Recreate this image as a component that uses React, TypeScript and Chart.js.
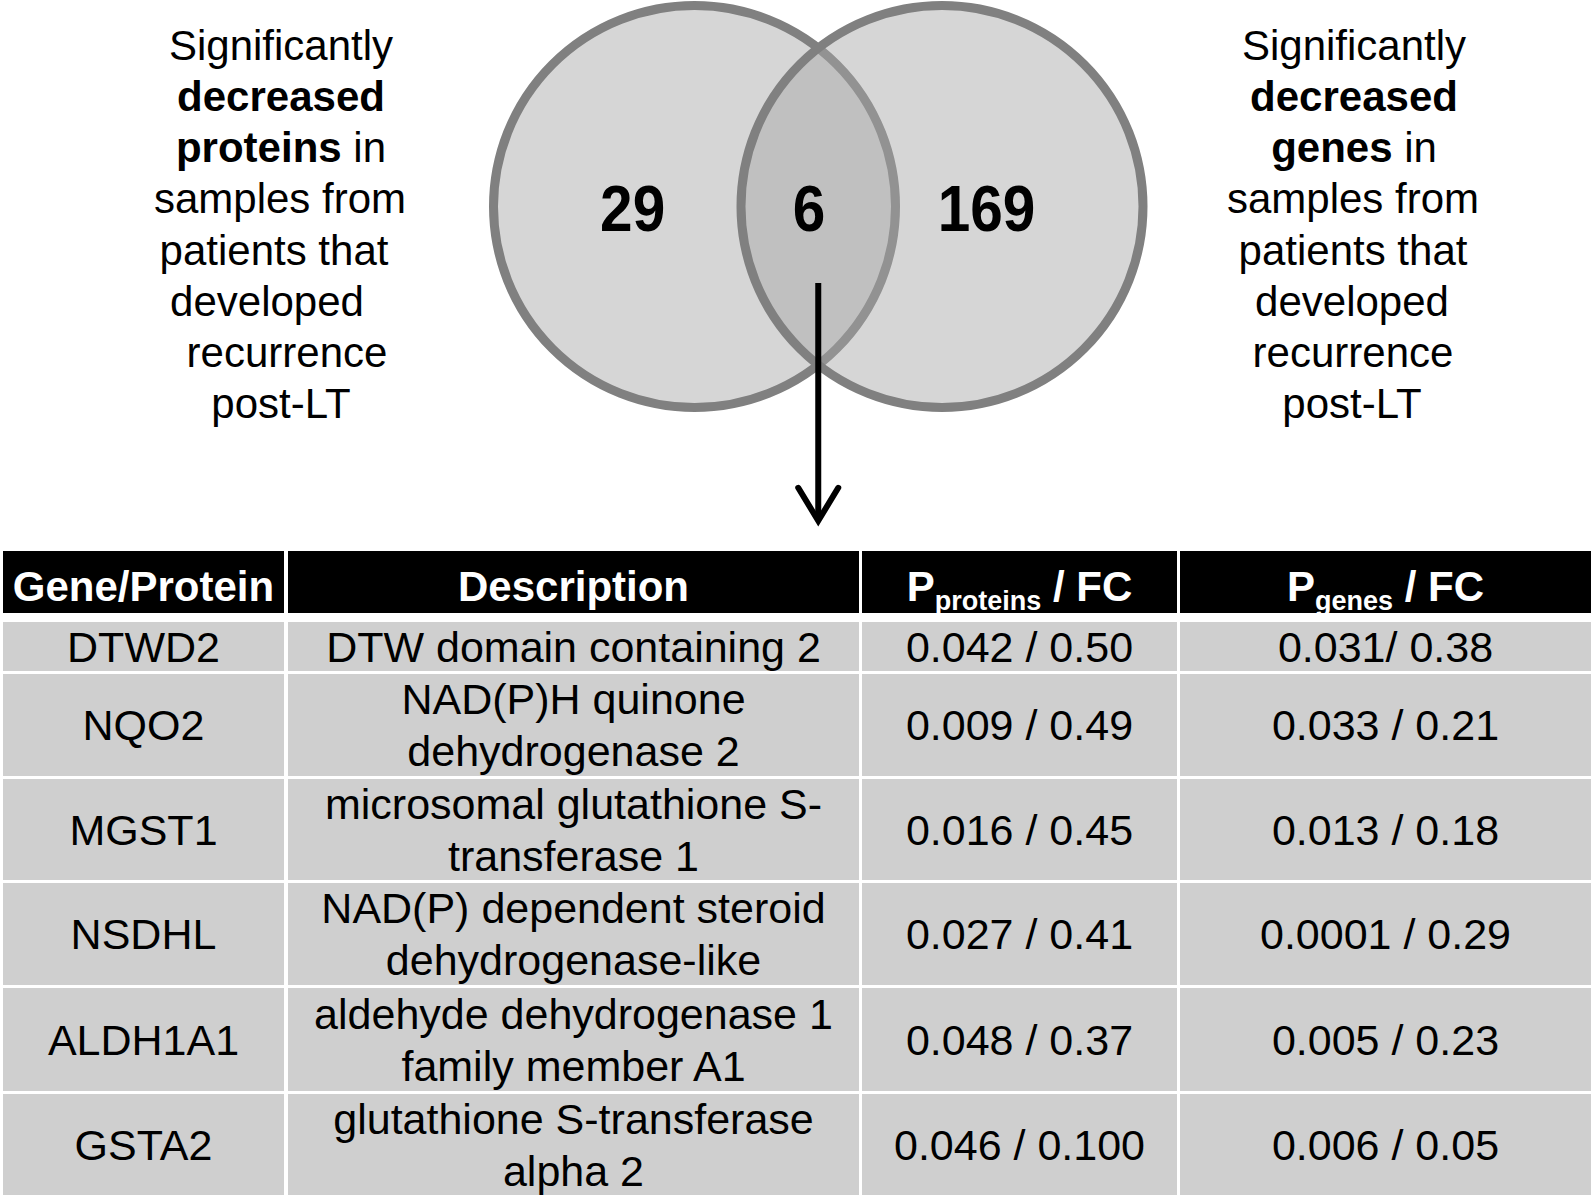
import React, { useEffect, useRef } from "react";
import { Chart, registerables } from "chart.js";

Chart.register(...registerables);

// ---------------- DATA ----------------
const vennSets = ["proteins", "genes"];
const vennCenters = [0, 1]; // abstract Venn layout units: left set, right set
const vennCounts = [29, 6, 169]; // proteins only, both, genes only
const vennCountPos = [-0.25, 0.463, 1.18];

const leftLabel: [string, boolean][][] = [
  [["Significantly", false]],
  [["decreased", true]],
  [["proteins", true], [" in", false]],
  [["samples from", false]],
  [["patients that", false]],
  [["developed", false]],
  [["recurrence", false]],
  [["post-LT", false]],
];
const rightLabel: [string, boolean][][] = [
  [["Significantly", false]],
  [["decreased", true]],
  [["genes", true], [" in", false]],
  [["samples from", false]],
  [["patients that", false]],
  [["developed", false]],
  [["recurrence", false]],
  [["post-LT", false]],
];

const genes = ["DTWD2", "NQO2", "MGST1", "NSDHL", "ALDH1A1", "GSTA2"];
const descriptions = [
  ["DTW domain containing 2"],
  ["NAD(P)H quinone", "dehydrogenase 2"],
  ["microsomal glutathione S-", "transferase 1"],
  ["NAD(P) dependent steroid", "dehydrogenase-like"],
  ["aldehyde dehydrogenase 1", "family member A1"],
  ["glutathione S-transferase", "alpha 2"],
];
const pProteins = ["0.042", "0.009", "0.016", "0.027", "0.048", "0.046"];
const fcProteins = ["0.50", "0.49", "0.45", "0.41", "0.37", "0.100"];
const pGenes = ["0.031", "0.033", "0.013", "0.0001", "0.005", "0.006"];
const fcGenes = ["0.38", "0.21", "0.18", "0.29", "0.23", "0.05"];
const sepGenes = ["/ ", " / ", " / ", " / ", " / ", " / "];

// ---------------- LAYOUT ----------------
const FONT = '"Liberation Sans", Arial, Helvetica, sans-serif';
const W = 1594;
const H = 1203;

const CANVAS_LEFT = 470;
const CANVAS_W = 700;
const CANVAS_H = 545;
const ORIGIN_X = 224.5; // canvas px for x unit 0
const PX_PER_UNIT_X = 247.5;
const ORIGIN_Y = 206.5;
const PX_PER_UNIT_Y = 206.5;
const CIRCLE_R = 201;

const ARROW_X = 0.5;
const ARROW_Y0 = -0.37;
const ARROW_TIP = -1.522;

const LABEL_FIRST_Y = 45.7;
const LABEL_STEP = 51.2;
const leftLabelX = [281, 281, 281, 280, 274, 267, 287, 281];
const rightLabelX = [1354, 1354, 1354, 1353, 1353, 1352, 1353, 1352];

const colEdges: [number, number][] = [
  [3, 284],
  [288, 859],
  [862, 1177],
  [1180, 1591],
];
const headerRow: [number, number] = [551, 613];
const rowEdges: [number, number][] = [
  [622, 671],
  [674, 776],
  [779, 880],
  [883, 985],
  [988, 1091],
  [1094, 1195],
];

function VennChart() {
  const ref = useRef<HTMLCanvasElement>(null);
  useEffect(() => {
    const canvas = ref.current;
    if (!canvas) return;
    const overlay = {
      id: "vennOverlay",
      afterDatasetsDraw(chart: any) {
        const { ctx } = chart;
        const xs = chart.scales.x;
        const ys = chart.scales.y;
        ctx.save();
        // counts
        const fs = 65;
        ctx.fillStyle = "#000";
        ctx.font = `bold ${fs}px ${FONT}`;
        ctx.textAlign = "center";
        ctx.textBaseline = "alphabetic";
        vennCounts.forEach((c, i) => {
          const px = xs.getPixelForValue(vennCountPos[i]);
          const py = ys.getPixelForValue(0) + 0.358 * fs + 1.5;
          ctx.save();
          ctx.translate(px, py);
          ctx.scale(0.9, 1);
          ctx.fillText(String(c), 0, 0);
          ctx.restore();
        });
        // arrow
        const ax = xs.getPixelForValue(ARROW_X);
        const ay0 = ys.getPixelForValue(ARROW_Y0);
        const tip = ys.getPixelForValue(ARROW_TIP);
        ctx.strokeStyle = "#000";
        ctx.lineWidth = 6;
        ctx.lineCap = "butt";
        ctx.beginPath();
        ctx.moveTo(ax, ay0);
        ctx.lineTo(ax, tip - 2);
        ctx.stroke();
        ctx.lineJoin = "miter";
        ctx.miterLimit = 10;
        ctx.lineCap = "round";
        ctx.beginPath();
        ctx.moveTo(ax - 20, tip - 33);
        ctx.lineTo(ax, tip);
        ctx.lineTo(ax + 20, tip - 33);
        ctx.stroke();
        ctx.restore();
      },
    };
    const chart = new Chart(canvas, {
      type: "scatter",
      data: {
        datasets: [
          {
            label: vennSets.join(" / "),
            data: vennCenters.map((x) => ({ x, y: 0 })),
            pointRadius: CIRCLE_R,
            pointHoverRadius: CIRCLE_R,
            pointBorderWidth: 9,
            pointHoverBorderWidth: 9,
            pointBackgroundColor: "rgba(166,166,166,0.463)",
            pointBorderColor: "#808080",
            clip: false as any,
          },
        ],
      },
      options: {
        animation: false,
        responsive: false,
        events: [],
        layout: { padding: 0, autoPadding: false },
        plugins: { legend: { display: false }, tooltip: { enabled: false } },
        scales: {
          x: {
            type: "linear",
            display: false,
            min: -ORIGIN_X / PX_PER_UNIT_X,
            max: (CANVAS_W - ORIGIN_X) / PX_PER_UNIT_X,
          },
          y: {
            type: "linear",
            display: false,
            min: -(CANVAS_H - ORIGIN_Y) / PX_PER_UNIT_Y,
            max: ORIGIN_Y / PX_PER_UNIT_Y,
          },
        },
      },
      plugins: [overlay],
    });
    return () => chart.destroy();
  }, []);
  return (
    <canvas
      ref={ref}
      width={CANVAS_W}
      height={CANVAS_H}
      style={{ position: "absolute", left: CANVAS_LEFT, top: 0, width: CANVAS_W, height: CANVAS_H }}
    />
  );
}

function SideLabel({ lines, xs }: { lines: [string, boolean][][]; xs: number[] }) {
  return (
    <>
      {lines.map((segs, i) => (
        <div
          key={i}
          style={{
            position: "absolute",
            left: xs[i] - 250,
            width: 500,
            top: LABEL_FIRST_Y + i * LABEL_STEP - 26,
            height: 52,
            lineHeight: "52px",
            textAlign: "center",
            fontSize: 42,
            fontFamily: FONT,
            color: "#000",
            whiteSpace: "pre",
          }}
        >
          {segs.map(([t, b], j) => (
            <span key={j} style={{ fontWeight: b ? "bold" : "normal" }}>
              {t}
            </span>
          ))}
        </div>
      ))}
    </>
  );
}

function Cell({
  col,
  row,
  bg,
  color,
  bold,
  children,
}: {
  col: number;
  row: [number, number];
  bg: string;
  color: string;
  bold?: boolean;
  children: React.ReactNode;
}) {
  const [l, r] = colEdges[col];
  return (
    <div
      style={{
        position: "absolute",
        left: l,
        top: row[0],
        width: r - l,
        height: row[1] - row[0],
        background: bg,
        color,
        fontFamily: FONT,
        fontSize: 43,
        fontWeight: bold ? "bold" : "normal",
        display: "flex",
        flexDirection: "column",
        alignItems: "center",
        justifyContent: "center",
        lineHeight: "52px",
        whiteSpace: "pre",
        overflow: "visible",
      }}
    >
      {children}
    </div>
  );
}

function Sub({ children }: { children: React.ReactNode }) {
  return (
    <span style={{ fontSize: 27, position: "relative", top: 9, lineHeight: "0px" }}>{children}</span>
  );
}

function Table() {
  const cellBg = "#cfcfcf";
  const textColor = "#000";
  const hdr = { fontSize: 42, position: "relative" as const, top: 5 };
  return (
    <>
      <Cell col={0} row={headerRow} bg="#000" color="#fff" bold>
        <div style={hdr}>Gene/Protein</div>
      </Cell>
      <Cell col={1} row={headerRow} bg="#000" color="#fff" bold>
        <div style={hdr}>Description</div>
      </Cell>
      <Cell col={2} row={headerRow} bg="#000" color="#fff" bold>
        <div style={hdr}>
          P<Sub>proteins</Sub> / FC
        </div>
      </Cell>
      <Cell col={3} row={headerRow} bg="#000" color="#fff" bold>
        <div style={hdr}>
          P<Sub>genes</Sub> / FC
        </div>
      </Cell>
      {genes.map((g, i) => (
        <React.Fragment key={g}>
          <Cell col={0} row={rowEdges[i]} bg={cellBg} color={textColor}>
            <div>{g}</div>
          </Cell>
          <Cell col={1} row={rowEdges[i]} bg={cellBg} color={textColor}>
            {descriptions[i].map((d, j) => (
              <div key={j}>{d}</div>
            ))}
          </Cell>
          <Cell col={2} row={rowEdges[i]} bg={cellBg} color={textColor}>
            <div>{`${pProteins[i]} / ${fcProteins[i]}`}</div>
          </Cell>
          <Cell col={3} row={rowEdges[i]} bg={cellBg} color={textColor}>
            <div>{`${pGenes[i]}${sepGenes[i]}${fcGenes[i]}`}</div>
          </Cell>
        </React.Fragment>
      ))}
    </>
  );
}

export default function App() {
  return (
    <div
      style={{
        position: "fixed",
        left: 0,
        top: 0,
        width: W,
        height: H,
        background: "#fff",
        overflow: "hidden",
      }}
    >
      <SideLabel lines={leftLabel} xs={leftLabelX} />
      <SideLabel lines={rightLabel} xs={rightLabelX} />
      <VennChart />
      <Table />
    </div>
  );
}
